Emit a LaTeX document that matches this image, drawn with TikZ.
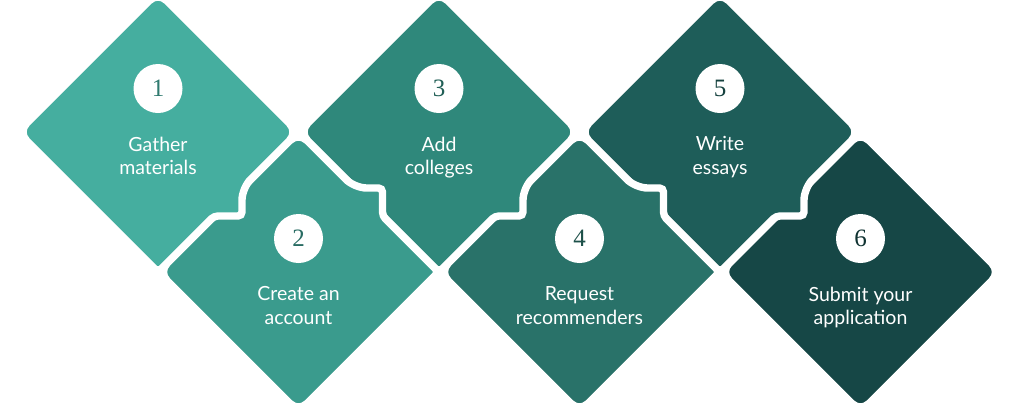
\documentclass[tikz,border=0pt]{standalone}
\usepackage{fontspec}
\usepackage{xcolor}
\usepackage{tikz}
\newfontfamily\lblfont{Lato}
\newfontfamily\numfont{Liberation Serif}
\definecolor{stepA}{HTML}{45AE9F}
\definecolor{stepB}{HTML}{3A9B8D}
\definecolor{stepC}{HTML}{2F887B}
\definecolor{stepD}{HTML}{297269}
\definecolor{stepE}{HTML}{1E5D59}
\definecolor{stepF}{HTML}{164746}

\begin{document}
\begin{tikzpicture}[x=1pt, y=-1pt,
    tile/.style={draw=white, line width=7.4pt, rounded corners=12pt},
    num/.style={circle, fill=white, minimum size=49pt, inner sep=0pt, font=\numfont\fontsize{25}{25}\selectfont},
    lbl/.style={anchor=north, inner sep=0pt, text=white, align=center, font=\lblfont\fontsize{19.5}{23.5}\selectfont}]
    \useasboundingbox (0,0) rectangle (1024,405);

    % Tiles, last one first so each tab lies over the next tile
    \draw [tile, fill=stepF, shift={(860.5,272)}] (0,-140) -- (140,0) -- (0,140) -- (-140,0) -- cycle;
    \draw [tile, fill=stepE, shift={(720,132)}] (0,-140) -- (140,0) -- (84,56) [rounded corners=4pt] -- (84,84) -- (56,84) -- (0,140) [rounded corners=12pt] -- (-140,0) -- cycle;
    \draw [tile, fill=stepD, shift={(579.5,272)}] (0,-140) -- (56,-84) [rounded corners=4pt] -- (84,-84) -- (84,-56) -- (140,0) [rounded corners=12pt] -- (0,140) -- (-140,0) -- cycle;
    \draw [tile, fill=stepC, shift={(439,132)}] (0,-140) -- (140,0) -- (84,56) [rounded corners=4pt] -- (84,84) -- (56,84) -- (0,140) [rounded corners=12pt] -- (-140,0) -- cycle;
    \draw [tile, fill=stepB, shift={(298.5,272)}] (0,-140) -- (56,-84) [rounded corners=4pt] -- (84,-84) -- (84,-56) -- (140,0) [rounded corners=12pt] -- (0,140) -- (-140,0) -- cycle;
    \draw [tile, fill=stepA, shift={(158,132)}] (0,-140) -- (140,0) -- (84,56) [rounded corners=4pt] -- (84,84) -- (56,84) -- (0,140) [rounded corners=12pt] -- (-140,0) -- cycle;

    % Numbers
    \node [num, text=stepA!70!black] (n1) at (158,88.5) {1};
    \node [num, text=stepB!70!black] (n2) at (298.5,238.5) {2};
    \node [num, text=stepC!70!black] (n3) at (439,88.5) {3};
    \node [num, text=stepD!70!black] (n4) at (579.5,238.5) {4};
    \node [num, text=stepE!70!black] (n5) at (720,88.5) {5};
    \node [num, text=stepF!70!black] (n6) at (860.5,238.5) {6};

    % Labels
    \node [lbl] (t1) at (158,136.5) {Gather\\materials};
    \node [lbl] (t2) at (298.5,286.5) {Create an\\account};
    \node [lbl] (t3) at (439,136.5) {Add\\colleges};
    \node [lbl] (t4) at (579.5,286.5) {Request\\recommenders};
    \node [lbl] (t5) at (720,136.5) {Write\\essays};
    \node [lbl] (t6) at (860.5,286.5) {Submit your\\application};
\end{tikzpicture}
\end{document}
